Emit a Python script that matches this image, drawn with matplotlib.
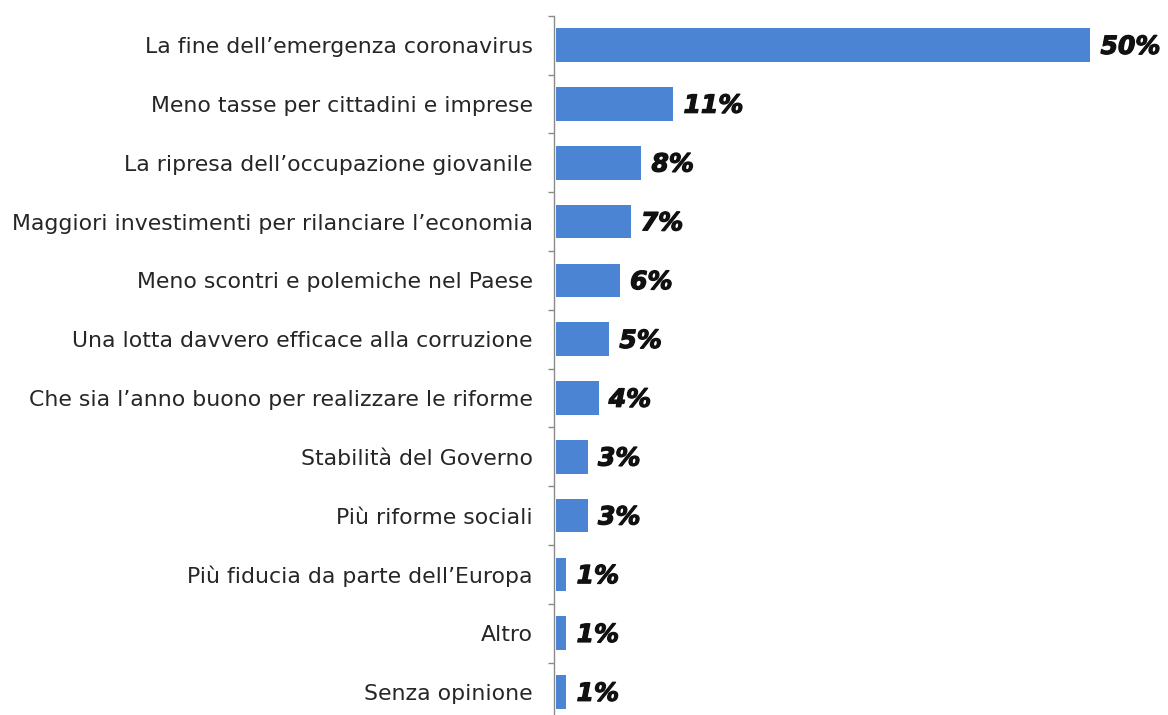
import numpy as np
import matplotlib
matplotlib.use("Agg")
import matplotlib.pyplot as plt
import matplotlib.patheffects as pe

categorie = [
    "La fine dell’emergenza coronavirus",
    "Meno tasse per cittadini e imprese",
    "La ripresa dell’occupazione giovanile",
    "Maggiori investimenti per rilanciare l’economia",
    "Meno scontri e polemiche nel Paese",
    "Una lotta davvero efficace alla corruzione",
    "Che sia l’anno buono per realizzare le riforme",
    "Stabilità del Governo",
    "Più riforme sociali",
    "Più fiducia da parte dell’Europa",
    "Altro",
    "Senza opinione",
]
percentuali = [50, 11, 8, 7, 6, 5, 4, 3, 3, 1, 1, 1]

plt.rcParams['font.family'] = ['DejaVu Sans']

fig = plt.figure(figsize=(11.68, 7.15), dpi=100)
ax = fig.add_axes([0.474, -0.009, 0.52, 0.987])

y = np.arange(len(categorie))
ax.barh(y, percentuali, height=0.57, color="#4a84d2", left=0.2)
ax.set_ylim(len(categorie) - 0.5, -0.5)
ax.set_xlim(0, 56.8)

# etichette con il valore in fondo a ogni barra
for yi, v in zip(y, percentuali):
    t = ax.text(v + 1.15, yi + 0.03, f"{v}%", va="center", ha="left",
                fontsize=18, fontweight="bold", fontstyle="oblique", color="#111111")
    t.set_path_effects([pe.withStroke(linewidth=0.9, foreground="#111111")])

ax.set_yticks(y)
ax.set_yticklabels(categorie, fontsize=15.8, color="#262626")
ax.tick_params(axis="y", which="major", length=0, pad=15)
ax.set_yticks(np.arange(len(categorie) + 1) - 0.5, minor=True)
ax.tick_params(axis="y", which="minor", length=4, color="#8a8a8a", width=1)
ax.set_xticks([])

for s in ["top", "right", "bottom"]:
    ax.spines[s].set_visible(False)
ax.spines["left"].set_color("#8a8a8a")
ax.spines["left"].set_linewidth(1)

fig.savefig("out.png", dpi=100)
